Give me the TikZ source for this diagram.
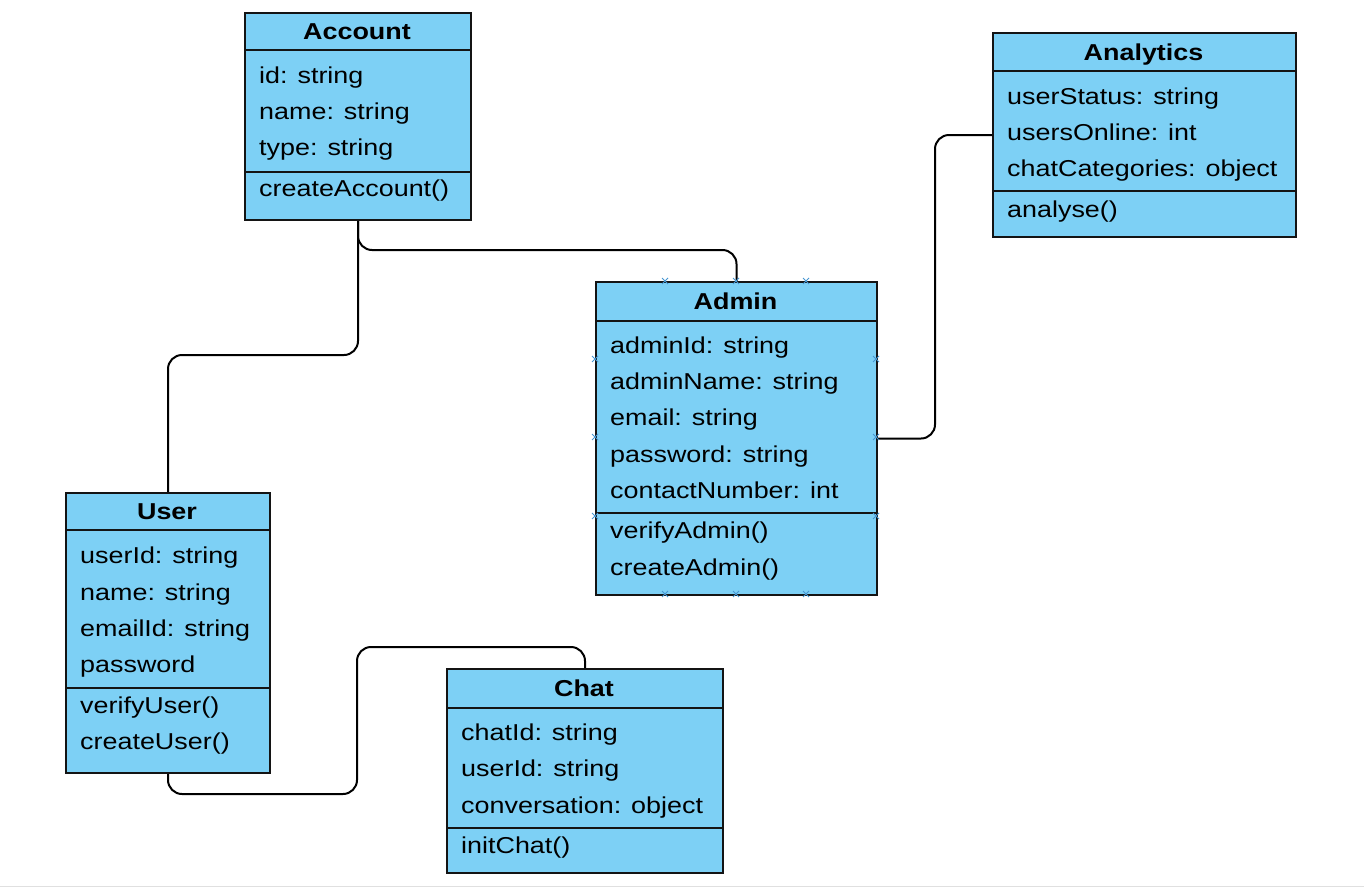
\documentclass[tikz,border=0pt]{standalone}
\usepackage{fontspec}
\setmainfont{Liberation Sans}[FakeStretch=1.17]
\definecolor{boxfill}{RGB}{125,208,245}
\definecolor{boxline}{RGB}{20,20,20}
\definecolor{hoverx}{RGB}{70,150,210}
\tikzset{
  classbox/.style={draw=boxline, line width=2pt, fill=boxfill, anchor=north west, inner sep=0pt, rectangle},
  divider/.style={draw=boxline, line width=2pt},
  attr/.style={anchor=base west, inner sep=0pt, font=\fontsize{23}{27}\selectfont},
  head/.style={anchor=base, inner sep=0pt, font=\fontsize{23}{27}\selectfont\bfseries},
  conn/.style={draw=black, line width=2pt, rounded corners=14pt},
  hov/.style={draw=hoverx, line width=0.9pt}
}
\newcommand{\hx}[1]{\draw[hov] ($(#1)+(-3,-3)$) -- ($(#1)+(3,3)$) ($(#1)+(-3,3)$) -- ($(#1)+(3,-3)$);}
\usetikzlibrary{calc}
\begin{document}
\begin{tikzpicture}[x=1pt,y=-1pt]
\useasboundingbox (0,0) rectangle (1364,889);
\draw[black!12, line width=1pt] (0,886) -- (1364,886);

% Account
\node[classbox, minimum width=226pt, minimum height=207pt] (account) at (244,12) {};
\draw[divider] (244,50) -- (470,50);
\draw[divider] (244,172) -- (470,172);
\node[head] (accountH) at (357,39.5) {Account};
\node[attr] (acc1) at (259,83) {id: string};
\node[attr] (acc2) at (259,119) {name: string};
\node[attr] (acc3) at (259,155) {type: string};
\node[attr] (acc4) at (259,196) {createAccount()};

% Analytics
\node[classbox, minimum width=303pt, minimum height=204pt] (analytics) at (992,32) {};
\draw[divider] (992,71) -- (1295,71);
\draw[divider] (992,191) -- (1295,191);
\node[head] (analyticsH) at (1143.5,60) {Analytics};
\node[attr] (an1) at (1007,104) {userStatus: string};
\node[attr] (an2) at (1007,140) {usersOnline: int};
\node[attr] (an3) at (1007,176) {chatCategories: object};
\node[attr] (an4) at (1007,217) {analyse()};

% Admin
\node[classbox, minimum width=281pt, minimum height=313pt] (admin) at (595,281) {};
\draw[divider] (595,321) -- (876,321);
\draw[divider] (595,513) -- (876,513);
\node[head] (adminH) at (735.5,309.5) {Admin};
\node[attr] (ad1) at (610,353) {adminId: string};
\node[attr] (ad2) at (610,389) {adminName: string};
\node[attr] (ad3) at (610,425) {email: string};
\node[attr] (ad4) at (610,462) {password: string};
\node[attr] (ad5) at (610,498) {contactNumber: int};
\node[attr] (ad6) at (610,538) {verifyAdmin()};
\node[attr] (ad7) at (610,575) {createAdmin()};

% User
\node[classbox, minimum width=204pt, minimum height=280pt] (user) at (65,492) {};
\draw[divider] (65,530) -- (269,530);
\draw[divider] (65,688) -- (269,688);
\node[head] (userH) at (167,519.5) {User};
\node[attr] (us1) at (80,563) {userId: string};
\node[attr] (us2) at (80,600) {name: string};
\node[attr] (us3) at (80,636) {emailId: string};
\node[attr] (us4) at (80,672) {password};
\node[attr] (us5) at (80,713) {verifyUser()};
\node[attr] (us6) at (80,749) {createUser()};

% Chat
\node[classbox, minimum width=276pt, minimum height=204pt] (chat) at (446,668) {};
\draw[divider] (446,708) -- (722,708);
\draw[divider] (446,828) -- (722,828);
\node[head] (chatH) at (584,696.5) {Chat};
\node[attr] (ch1) at (461,740) {chatId: string};
\node[attr] (ch2) at (461,776) {userId: string};
\node[attr] (ch3) at (461,813) {conversation: object};
\node[attr] (ch4) at (461,853) {initChat()};

% junction coordinates
\coordinate (j1) at (0,250);
\coordinate (j2) at (0,355);
\coordinate (j3) at (935,0);
\coordinate (j4) at (0,794);
\coordinate (j5) at (357,0);
\coordinate (j6) at (0,647);

% connectors
\draw[conn] (account.south) -- (account.south |- j1) -- (admin.north |- j1) -- (admin.north);
\draw[conn] (account.south) -- (account.south |- j2) -- (user.north |- j2) -- (user.north);
\draw[conn] (analytics.west) -- (analytics.west -| j3) -- (admin.east -| j3) -- (admin.east);
\draw[conn] (user.south) -- (user.south |- j4) -- (j5 |- j4) -- (j5 |- j6) -- (chat.north |- j6) -- (chat.north);

% hover connection markers on Admin
\coordinate (h1) at (665,281); \coordinate (h2) at (736,281); \coordinate (h3) at (806,281);
\coordinate (h4) at (665,594); \coordinate (h5) at (736,594); \coordinate (h6) at (806,594);
\coordinate (h7) at (595,359); \coordinate (h8) at (595,437); \coordinate (h9) at (595,516);
\coordinate (h10) at (876,359); \coordinate (h11) at (876,437); \coordinate (h12) at (876,516);
\hx{h1}\hx{h2}\hx{h3}\hx{h4}\hx{h5}\hx{h6}\hx{h7}\hx{h8}\hx{h9}\hx{h10}\hx{h11}\hx{h12}
\end{tikzpicture}
\end{document}
